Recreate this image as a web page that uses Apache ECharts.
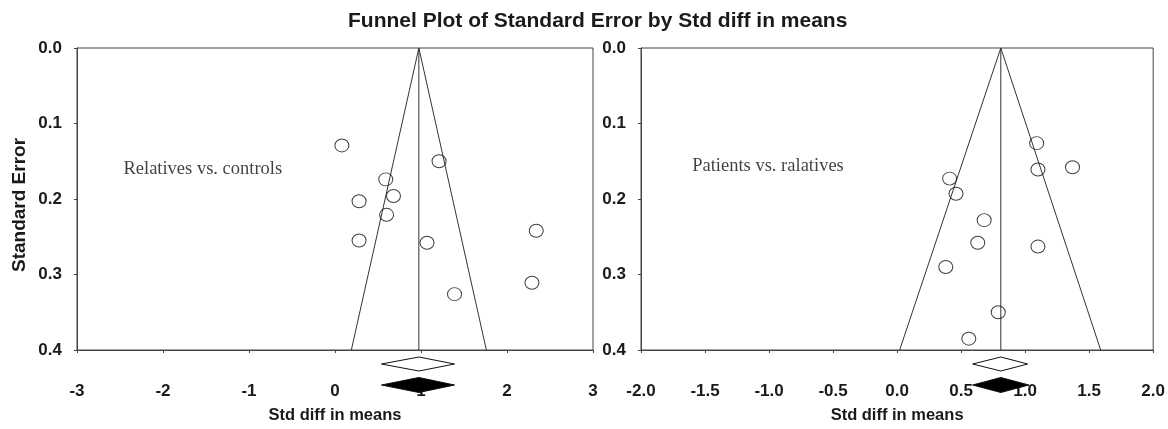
<!DOCTYPE html>
<html>
<head>
<meta charset="utf-8">
<title>Funnel Plot of Standard Error by Std diff in means</title>
<script src="https://cdn.jsdelivr.net/npm/echarts@6/dist/echarts.min.js"></script>
<style>
  html, body { margin: 0; padding: 0; background: #fff; }
  #chart { width: 1168px; height: 429px; }
</style>
</head>
<body>
<div id="chart"></div>
<script>
// left panel: relatives vs. controls
const leftSMD = [0.08, 1.21, 0.59, 0.68, 0.28, 0.60, 0.28, 1.07, 2.34, 2.29, 1.39];
const leftSE = [0.129, 0.150, 0.174, 0.196, 0.203, 0.221, 0.255, 0.258, 0.242, 0.311, 0.326];
const leftPooled = 0.975;
const leftFunnel = [0.19, 1.76]; // limits at SE 0.4
const leftDiamonds = [[0.54, 0.975, 1.39], [0.54, 0.975, 1.39]]; // open, filled

// right panel: patients vs. relatives
const rightSMD = [1.09, 1.10, 1.37, 0.41, 0.46, 0.68, 0.63, 1.10, 0.38, 0.79, 0.56];
const rightSE = [0.126, 0.161, 0.158, 0.173, 0.193, 0.228, 0.258, 0.263, 0.290, 0.350, 0.385];
const rightPooled = 0.81;
const rightFunnel = [0.02, 1.59];
const rightDiamonds = [[0.59, 0.81, 1.02], [0.59, 0.81, 1.03]];

const xTicksLeft = [-3, 3, 1];
const xTicksRight = [-2, 2, 0.5];
const seMax = 0.4;

const ink = "#1a1a1a";
const lineCol = "#444";
const font = "Liberation Sans";

var chart = echarts.init(document.getElementById("chart"));

function pairs(xs, ys) {
  return xs.map((x, i) => [x, ys[i]]);
}

function diamondItem(params, api) {
  const lo = api.coord([api.value(0), seMax]);
  const mid = api.coord([api.value(1), seMax]);
  const hi = api.coord([api.value(2), seMax]);
  const filled = params.dataIndex === 1;
  const y = mid[1] + (filled ? 35 : 14);
  const h = filled ? 7.5 : 7;
  return {
    type: "polygon",
    shape: { points: [[lo[0], y], [mid[0], y - h], [hi[0], y], [mid[0], y + h]] },
    style: { fill: filled ? "#000" : "#fff", stroke: "#111", lineWidth: 1 }
  };
}

function panelSeries(idx, smd, se, pooled, funnel, diamonds, note, noteX, noteY) {
  return [
    {
      type: "line",
      xAxisIndex: idx, yAxisIndex: idx,
      data: [[funnel[0], seMax], [pooled, 0], [funnel[1], seMax]],
      symbol: "none",
      lineStyle: { color: "#333", width: 1 },
      silent: true
    },
    {
      type: "line",
      xAxisIndex: idx, yAxisIndex: idx,
      data: [[pooled, 0], [pooled, seMax]],
      symbol: "none",
      lineStyle: { color: "#333", width: 1 },
      silent: true
    },
    {
      type: "scatter",
      xAxisIndex: idx, yAxisIndex: idx,
      data: pairs(smd, se),
      symbol: "circle",
      symbolSize: [14, 13],
      itemStyle: { color: "rgba(255,255,255,0)", borderColor: "#111", borderWidth: 1 },
      z: 5
    },
    {
      type: "custom",
      xAxisIndex: idx, yAxisIndex: idx,
      data: diamonds,
      encode: { x: [0, 1, 2] },
      renderItem: diamondItem,
      clip: false,
      z: 10
    },
    {
      type: "scatter",
      xAxisIndex: idx, yAxisIndex: idx,
      data: [[noteX, noteY]],
      symbolSize: 0,
      label: {
        show: true,
        position: "right",
        distance: 0,
        formatter: note,
        fontFamily: "Liberation Serif",
        fontSize: 18.5,
        color: "#111"
      },
      silent: true
    }
  ];
}

function xAxis(idx, ticks, digits) {
  return {
    type: "value",
    gridIndex: idx,
    min: ticks[0], max: ticks[1], interval: ticks[2],
    name: "Std diff in means",
    nameLocation: "middle",
    nameGap: 57,
    nameTextStyle: { fontFamily: font, fontWeight: "bold", fontSize: 16.5, color: ink },
    axisLine: { show: true, onZero: false, lineStyle: { color: lineCol } },
    axisTick: { show: true, length: 3, lineStyle: { color: lineCol } },
    axisLabel: {
      margin: 33,
      fontFamily: font, fontWeight: "bold", fontSize: 17, color: ink,
      formatter: v => v.toFixed(digits)
    },
    splitLine: { show: false }
  };
}

function yAxis(idx, showName) {
  return {
    type: "value",
    gridIndex: idx,
    min: 0, max: seMax, interval: 0.1,
    inverse: true,
    name: showName ? "Standard Error" : "",
    nameLocation: "middle",
    nameGap: 48,
    nameTextStyle: {
      fontFamily: font, fontWeight: "bold", fontSize: 19, color: ink,
      padding: [0, 12, 0, 0]
    },
    axisLine: { show: true, onZero: false, lineStyle: { color: lineCol } },
    axisTick: { show: true, length: 3, lineStyle: { color: lineCol } },
    axisLabel: {
      margin: 15,
      fontFamily: font, fontWeight: "bold", fontSize: 17, color: ink,
      formatter: v => v.toFixed(1)
    },
    splitLine: { show: false }
  };
}

chart.setOption({
  animation: false,
  backgroundColor: "#fff",
  title: {
    text: "Funnel Plot of Standard Error by Std diff in means",
    left: 343,
    top: 6,
    textStyle: { fontFamily: font, fontWeight: "bold", fontSize: 21, color: ink }
  },
  grid: [
    { left: 77, top: 48, width: 516, height: 309, show: true, borderColor: lineCol, borderWidth: 1 },
    { left: 641, top: 48, width: 513, height: 308, show: true, borderColor: lineCol, borderWidth: 1 }
  ],
  xAxis: [xAxis(0, xTicksLeft, 0), xAxis(1, xTicksRight, 1)],
  yAxis: [yAxis(0, true), yAxis(1, false)],
  series: [].concat(
    panelSeries(0, leftSMD, leftSE, leftPooled, leftFunnel, leftDiamonds, "Relatives vs. controls", -2.46, 0.16),
    panelSeries(1, rightSMD, rightSE, rightPooled, rightFunnel, rightDiamonds, "Patients vs. ralatives", -1.6, 0.156)
  )
});
</script>
</body>
</html>
